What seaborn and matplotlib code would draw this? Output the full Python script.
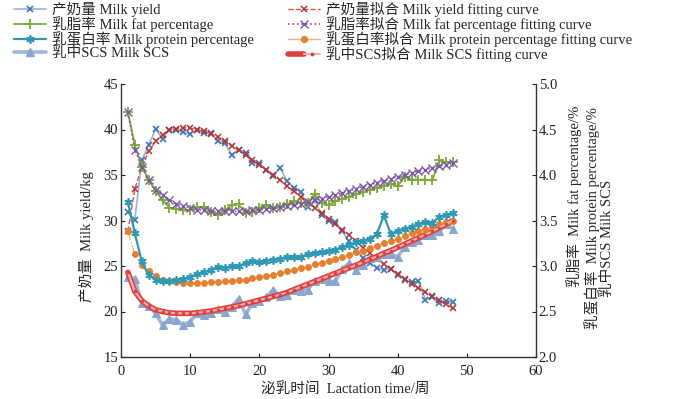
import numpy as np
import pandas as pd
import seaborn as sns
import matplotlib
matplotlib.use("Agg")
import matplotlib.pyplot as plt
from matplotlib.lines import Line2D
from matplotlib.legend_handler import HandlerTuple

# ---------------- data ----------------
weeks = list(range(1, 49))

milk_yield = [30.9, 30.1, 36.6, 38.3, 40.05, 39.0, 40.0, 40.0, 39.7, 39.5,
              40.0, 39.65, 39.6, 38.7, 38.5, 37.2, 37.8, 37.45, 36.3, 36.3,
              35.55, 34.9, 35.8, 34.3, 33.6, 33.1, 31.5, 32.2, 30.6, 30.0,
              29.8, 28.8, 27.7, 26.8, 25.9, 25.3, 24.8, 24.6, 24.7, 24.0,
              23.5, 23.2, 23.3, 21.3, 21.6, 20.9, 21.2, 21.0]
milk_yield_fit = [28.8, 33.5, 35.8, 37.6, 38.7, 39.4, 39.9, 40.1, 40.2, 40.15,
                  40.0, 39.8, 39.5, 39.15, 38.7, 38.2, 37.7, 37.2, 36.7, 36.15,
                  35.6, 35.05, 34.4, 33.8, 33.2, 32.6, 32.0, 31.4, 30.8, 30.2,
                  29.6, 29.0, 28.4, 27.7, 27.0, 26.4, 25.8, 25.2, 24.65, 24.1,
                  23.55, 23.05, 22.6, 22.15, 21.7, 21.25, 20.8, 20.35]

fat = [4.69, 4.33, 4.09, 3.95, 3.82, 3.73, 3.64, 3.63, 3.61, 3.61,
       3.65, 3.65, 3.59, 3.56, 3.61, 3.67, 3.68, 3.58, 3.59, 3.64,
       3.67, 3.64, 3.65, 3.68, 3.71, 3.69, 3.69, 3.79, 3.69, 3.67,
       3.71, 3.74, 3.76, 3.79, 3.81, 3.84, 3.86, 3.88, 3.90, 3.88,
       3.98, 3.95, 3.95, 3.95, 3.94, 4.16, 4.14, 4.14]
fat_fit = [4.69, 4.28, 4.09, 3.95, 3.84, 3.78, 3.73, 3.68, 3.66, 3.64,
           3.62, 3.61, 3.605, 3.60, 3.60, 3.60, 3.60, 3.605, 3.61, 3.615,
           3.625, 3.635, 3.645, 3.655, 3.67, 3.685, 3.70, 3.72, 3.74, 3.76,
           3.78, 3.80, 3.825, 3.85, 3.87, 3.895, 3.915, 3.935, 3.96, 3.98,
           4.00, 4.02, 4.04, 4.06, 4.08, 4.095, 4.115, 4.13]

protein = [3.70, 3.36, 3.05, 2.90, 2.85, 2.84, 2.83, 2.85, 2.86, 2.88,
           2.91, 2.93, 2.96, 2.99, 2.98, 3.00, 3.00, 3.03, 3.06, 3.04,
           3.06, 3.07, 3.08, 3.10, 3.10, 3.10, 3.13, 3.14, 3.15, 3.16,
           3.18, 3.21, 3.23, 3.26, 3.28, 3.30, 3.35, 3.56, 3.35, 3.39,
           3.41, 3.43, 3.46, 3.48, 3.47, 3.54, 3.56, 3.58]
protein_fit = [3.38, 3.13, 3.01, 2.94, 2.89, 2.85, 2.84, 2.82, 2.81, 2.81,
               2.81, 2.81, 2.82, 2.82, 2.83, 2.84, 2.85, 2.85, 2.87, 2.88,
               2.89, 2.90, 2.92, 2.94, 2.96, 2.98, 2.99, 3.02, 3.03, 3.06,
               3.08, 3.10, 3.12, 3.15, 3.17, 3.20, 3.22, 3.25, 3.27, 3.30,
               3.33, 3.36, 3.39, 3.41, 3.43, 3.46, 3.48, 3.49]

scs = [2.88, 2.86, 2.59, 2.56, 2.48, 2.35, 2.42, 2.41, 2.35, 2.39,
       2.48, 2.46, 2.48, 2.53, 2.50, 2.55, 2.64, 2.47, 2.59, 2.62,
       2.66, 2.74, 2.67, 2.68, 2.74, 2.73, 2.74, 2.84, 2.86, 2.83,
       2.83, 2.97, 3.03, 2.96, 3.01, 3.09, 3.10, 3.13, 3.13, 3.10,
       3.21, 3.26, 3.29, 3.34, 3.34, 3.38, 3.46, 3.41]
scs_fit = [2.93, 2.72, 2.62, 2.56, 2.52, 2.50, 2.485, 2.48, 2.48, 2.48,
           2.485, 2.495, 2.505, 2.52, 2.535, 2.55, 2.565, 2.585, 2.605, 2.625,
           2.645, 2.665, 2.685, 2.71, 2.74, 2.77, 2.80, 2.83, 2.86, 2.89,
           2.92, 2.95, 2.98, 3.01, 3.04, 3.075, 3.105, 3.14, 3.17, 3.205,
           3.24, 3.275, 3.31, 3.345, 3.38, 3.42, 3.46, 3.50]

labels = ["产奶量 Milk yield", "乳脂率 Milk fat percentage",
          "乳蛋白率 Milk protein percentage", "乳中SCS Milk SCS",
          "产奶量拟合 Milk yield fitting curve", "乳脂率拟合 Milk fat percentage fitting curve",
          "乳蛋白率拟合 Milk protein percentage fitting curve", "乳中SCS拟合 Milk SCS fitting curve"]

xlabel = "泌乳时间  Lactation time/周"
ylabel_left = "产奶量  Milk yield/kg"
ylabel_right = ["乳脂率  Milk fat percentage/%", "乳蛋白率  Milk protein percentage/%",
                "乳中SCS Milk SCS"]
x_ticks = [0, 10, 20, 30, 40, 50, 60]
yl_ticks = [15, 20, 25, 30, 35, 40, 45]
yr_ticks = [2.0, 2.5, 3.0, 3.5, 4.0, 4.5, 5.0]

# ---------------- style ----------------
sns.set_style("ticks")
FAM = ["Liberation Serif", "Noto Sans CJK SC", "DejaVu Sans"]
plt.rcParams["font.family"] = FAM
plt.rcParams["axes.unicode_minus"] = False

C_Y_LINE, C_Y_MK = "#93b6de", "#3d74b6"
C_FAT = "#78ac32"
C_PRO = "#2f98b3"
C_SCS_LINE, C_SCS_MK = "#9fb7da", "#8aa6cf"
C_YF, C_YF_MK = "#e2504a", "#b4322e"
C_FF = "#7d57a6"
C_PF_LINE, C_PF_MK = "#f0b283", "#e5802f"
C_SF, C_SF_IN = "#de3f3f", "#f6b0ae"

fig = plt.figure(figsize=(7.0, 3.99), dpi=100)
ax = fig.add_axes([121 / 700, 1 - 357 / 399, 415 / 700, 273 / 399])
ax2 = ax.twinx()

# left axis: milk yield
sns.lineplot(x=weeks, y=milk_yield, ax=ax, color=C_Y_LINE, lw=1.2, marker="x",
             markersize=4.5, mec=C_Y_MK, mew=1.2, zorder=3)
sns.lineplot(x=weeks, y=milk_yield_fit, ax=ax, color=C_YF, lw=1.0, ls="--",
             marker="x", markersize=4, mec=C_YF_MK, mew=1.1, zorder=4)

# right axis
sns.lineplot(x=weeks, y=scs, ax=ax2, color=C_SCS_LINE, lw=2.6, marker="^",
             markersize=6, mfc=C_SCS_MK, mec=C_SCS_MK, zorder=2)
sns.lineplot(x=weeks, y=scs_fit, ax=ax2, color=C_SF, lw=4.0, zorder=3)
sns.lineplot(x=weeks, y=scs_fit, ax=ax2, color=C_SF_IN, lw=1.6, marker=".",
             markersize=3.5, mfc=C_SF, mec=C_SF, zorder=3.1)
sns.lineplot(x=weeks, y=protein_fit, ax=ax2, color=C_PF_LINE, lw=1.0, ls="-.",
             marker="o", markersize=4.2, mfc=C_PF_MK, mec=C_PF_MK, zorder=3)
sns.lineplot(x=weeks, y=protein, ax=ax2, color=C_PRO, lw=1.6, marker=(6, 2, 0),
             markersize=6, mec=C_PRO, mew=1.2, zorder=4)
sns.lineplot(x=weeks, y=fat, ax=ax2, color=C_FAT, lw=1.3, marker="+",
             markersize=7, mec=C_FAT, mew=1.3, zorder=4)
sns.lineplot(x=weeks, y=fat_fit, ax=ax2, color=C_FF, lw=1.2, ls=":",
             marker="x", markersize=6, mec=C_FF, mew=1.0, zorder=5)

for a in (ax, ax2):
    a.set_xlabel("")
    a.set_ylabel("")
    if a.get_legend():
        a.get_legend().remove()

ax.set_xlim(0, 60)
ax.set_ylim(15, 45)
ax2.set_ylim(2, 5)
ax.set_xticks(x_ticks)
ax.set_yticks(yl_ticks)
ax2.set_yticks(yr_ticks)
ax2.set_yticklabels([f"{v:.1f}" for v in yr_ticks])

for a in (ax, ax2):
    a.spines["top"].set_visible(False)
    for s in a.spines.values():
        s.set_color("#333333")
        s.set_linewidth(1.0)
ax.spines["right"].set_visible(False)
ax2.spines["left"].set_visible(False)
ax2.spines["bottom"].set_visible(False)

ax.tick_params(axis="y", direction="in", length=3, width=0.8, labelsize=10.5,
               colors="#222222", pad=2)
ax.tick_params(axis="x", direction="in", length=3, width=0.8, labelsize=10.5,
               colors="#222222", pad=6)
ax2.tick_params(axis="y", direction="in", length=3, width=0.8, labelsize=10.5,
                colors="#222222", pad=2)

# axis labels as figure texts
fig.text(345 / 700, 1 - 389 / 399, xlabel, ha="center", va="center", fontsize=10.5,
         family=FAM)
fig.text(86 / 700, 1 - 237 / 399, ylabel_left, ha="center", va="center",
         rotation=90, fontsize=10.5, family=FAM)
rx = [574, 592, 607]
ry = [196, 218, 238]
for t, x, y in zip(ylabel_right, rx, ry):
    fig.text(x / 700, 1 - y / 399, t, ha="center", va="center", rotation=90,
             fontsize=10.5, family=FAM)

# legend handles
h_y = Line2D([], [], color=C_Y_LINE, lw=1.2, marker="x", markersize=4.5, mec=C_Y_MK, mew=1.2)
h_f = Line2D([], [], color=C_FAT, lw=1.3, marker="+", markersize=7, mec=C_FAT, mew=1.3)
h_p = Line2D([], [], color=C_PRO, lw=1.6, marker=(6, 2, 0), markersize=6, mec=C_PRO, mew=1.2)
h_s = Line2D([], [], color=C_SCS_LINE, lw=2.6, marker="^", markersize=6, mfc=C_SCS_MK, mec=C_SCS_MK)
h_yf = Line2D([], [], color=C_YF, lw=1.0, ls="--", marker="x", markersize=4, mec=C_YF_MK, mew=1.1)
h_ff = Line2D([], [], color=C_FF, lw=1.2, ls=":", marker="x", markersize=6, mec=C_FF, mew=1.0)
h_pf = Line2D([], [], color=C_PF_LINE, lw=1.0, ls="-", marker="o", markersize=4.2, mfc=C_PF_MK, mec=C_PF_MK)
h_sf1 = Line2D([], [], color=C_SF, lw=4.0)
h_sf2 = Line2D([], [], color=C_SF_IN, lw=1.6, marker=".", markersize=3.5, mfc=C_SF, mec=C_SF)

common = dict(frameon=False, handlelength=2.2, handletextpad=0.4,
              labelspacing=-0.05, borderpad=0, borderaxespad=0, loc="upper left",
              prop={"family": FAM, "size": 10.5})
fig.legend([h_y, h_f, h_p, h_s], labels[:4], bbox_to_anchor=(14 / 700, 1 - 2 / 399),
           **common)
fig.legend([h_yf, h_ff, h_pf, (h_sf1, h_sf2)], labels[4:],
           bbox_to_anchor=(288 / 700, 1 - 2 / 399),
           handler_map={tuple: HandlerTuple(ndivide=None)}, **common)

fig.savefig("out.png", dpi=100)
